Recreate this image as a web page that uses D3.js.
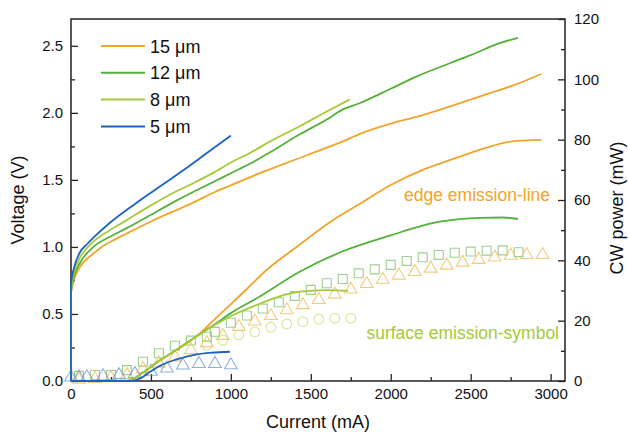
<!DOCTYPE html>
<html>
<head>
<meta charset="utf-8">
<script src="https://cdn.jsdelivr.net/npm/d3@7"></script>
<style>
  body { margin: 0; background: #fff; }
  text { font-family: "Liberation Sans", Arial, sans-serif; }
</style>
</head>
<body>
<script>
// voltage curves (left axis)
var v15I = [0, 0, 20, 56, 140, 192, 250, 348, 500, 650, 764, 900, 1000, 1181, 1400, 1600, 1744, 1800, 2000, 2160, 2400, 2577, 2800, 2942];
var v15V = [0, 0.66, 0.76, 0.85, 0.95, 1.0, 1.04, 1.10, 1.19, 1.27, 1.33, 1.41, 1.46, 1.55, 1.65, 1.74, 1.81, 1.84, 1.92, 1.97, 2.06, 2.13, 2.22, 2.29];
var v12I = [0, 0, 20, 56, 140, 250, 348, 500, 650, 764, 900, 1000, 1119, 1250, 1431, 1600, 1692, 1800, 2000, 2160, 2369, 2500, 2681, 2796];
var v12V = [0, 0.66, 0.78, 0.88, 1.0, 1.08, 1.14, 1.24, 1.34, 1.41, 1.49, 1.55, 1.62, 1.71, 1.84, 1.95, 2.02, 2.07, 2.18, 2.27, 2.37, 2.43, 2.52, 2.56];
var v8I = [0, 0, 20, 56, 106, 140, 250, 348, 500, 650, 764, 900, 1000, 1119, 1250, 1431, 1600, 1744];
var v8V = [0, 0.68, 0.81, 0.92, 1.0, 1.04, 1.13, 1.20, 1.31, 1.41, 1.475, 1.56, 1.63, 1.70, 1.79, 1.90, 2.01, 2.10];
var v5I = [0, 0, 10, 25, 56, 100, 150, 244, 400, 556, 700, 850, 1000];
var v5V = [0, 0.72, 0.80, 0.87, 0.96, 1.02, 1.08, 1.18, 1.32, 1.45, 1.57, 1.70, 1.83];

// edge emission power (right axis, lines)
var p15I = [0, 350, 400, 450, 550, 650, 744, 806, 900, 1000, 1100, 1223, 1400, 1640, 1800, 2000, 2200, 2400, 2600, 2785, 2942];
var p15P = [0, 0, 1, 2.8, 6.6, 10, 13.2, 15.8, 20.5, 25.5, 30.5, 36.8, 44, 53.4, 58.5, 65, 70, 73.8, 77.4, 79.6, 79.9];
var p12I = [0, 350, 400, 450, 550, 650, 744, 900, 1000, 1181, 1430, 1700, 2000, 2306, 2556, 2700, 2796];
var p12P = [0, 0, 1, 2.8, 6.6, 10, 13.4, 18.8, 22.5, 28, 36.2, 43, 48.3, 52.8, 54.1, 54.2, 53.7];
var p8I = [0, 350, 400, 450, 550, 650, 744, 850, 1014, 1181, 1300, 1431, 1600, 1733];
var p8P = [0, 0, 1, 2.8, 6.6, 10, 13.3, 17, 21.9, 25.6, 28, 29.6, 30.1, 29.9];
var p5I = [0, 380, 430, 500, 556, 650, 764, 880, 994];
var p5P = [0, 0, 0.8, 3.2, 5.0, 7.0, 8.6, 9.4, 9.7];

// surface emission power (right axis, symbols)
var sqI = [50, 150, 250, 350, 450, 550, 650, 750, 850, 900, 1000, 1100, 1200, 1300, 1400, 1500, 1600, 1700, 1800, 1900, 2000, 2100, 2200, 2300, 2400, 2500, 2600, 2700, 2800];
var sqP = [1.7, 2.0, 2.0, 3.6, 6.4, 9.2, 11.7, 13.4, 14.7, 16.3, 19.3, 21.7, 24.0, 26.1, 28.2, 30.2, 32.4, 33.8, 35.7, 37.0, 38.5, 39.8, 41.0, 41.8, 42.5, 42.9, 43.2, 43.3, 42.7];
var triI = [50, 150, 250, 350, 450, 550, 650, 750, 850, 950, 1050, 1150, 1250, 1350, 1450, 1550, 1650, 1750, 1850, 1950, 2050, 2150, 2250, 2350, 2450, 2550, 2650, 2750, 2850, 2950];
var triP = [0.5, 0.7, 1.0, 2.0, 4.0, 5.9, 7.9, 10.3, 12.6, 15.0, 18.0, 19.8, 21.6, 23.5, 25.2, 26.9, 28.7, 30.4, 32.2, 33.6, 35.0, 36.2, 37.3, 38.3, 39.3, 40.2, 41.0, 41.6, 41.8, 41.8];
var cirI = [850, 950, 1050, 1150, 1250, 1350, 1450, 1550, 1650, 1750];
var cirP = [11.9, 13.5, 15.3, 16.3, 17.8, 18.9, 19.7, 20.5, 20.8, 20.8];
var btriI = [0, 50, 100, 200, 300, 400, 500, 600, 700, 800, 900, 1000];
var btriP = [1.2, 1.2, 1.3, 1.6, 2.0, 2.4, 3.1, 4.2, 5.2, 5.7, 5.7, 5.3];

var legendLabels = ["15 μm", "12 μm", "8 μm", "5 μm"];
var xTicks = [0, 500, 1000, 1500, 2000, 2500, 3000];
var yLTicks = [0, 0.5, 1.0, 1.5, 2.0, 2.5];
var yRTicks = [0, 20, 40, 60, 80, 100, 120];

var orange = "#f0a42a", green = "#55b03a", lime = "#a6c93a", blue = "#1e62c0";

var svg = d3.select("body").append("svg")
  .attr("width", 628)
  .attr("height", 433);

var x = d3.scaleLinear().domain([0, 3090]).range([71, 565]);
var yL = d3.scaleLinear().domain([0, 2.7]).range([381, 19]);
var yR = d3.scaleLinear().domain([0, 120]).range([381, 19]);

function pairs(a, b) {
  return a.map(function(d, i) { return [d, b[i]]; });
}

// minor ticks
svg.append("g").attr("transform", "translate(0,381)")
  .call(d3.axisBottom(x).tickValues(d3.range(250, 3000, 500)).tickSize(-4).tickFormat(""));
svg.append("g").attr("transform", "translate(71,0)")
  .call(d3.axisLeft(yL).tickValues(d3.range(0.25, 2.7, 0.5)).tickSize(-4).tickFormat(""));
svg.append("g").attr("transform", "translate(565,0)")
  .call(d3.axisRight(yR).tickValues(d3.range(10, 120, 20)).tickSize(-4).tickFormat(""));

// major axes
svg.append("g").attr("transform", "translate(0,381)")
  .call(d3.axisBottom(x).tickValues(xTicks).tickSize(-7).tickPadding(7).tickFormat(d3.format("d")));
svg.append("g").attr("transform", "translate(71,0)")
  .call(d3.axisLeft(yL).tickValues(yLTicks).tickSize(-7).tickPadding(8).tickFormat(d3.format(".1f")));
svg.append("g").attr("transform", "translate(565,0)")
  .call(d3.axisRight(yR).tickValues(yRTicks).tickSize(-7).tickPadding(9).tickFormat(d3.format("d")));

svg.selectAll(".domain").remove();
svg.selectAll(".tick line").attr("stroke", "#222").attr("stroke-width", 1.3);
svg.selectAll(".tick text").attr("font-size", 15).attr("fill", "#111")
  .style("font-family", "'Liberation Sans', Arial, sans-serif");

svg.append("rect")
  .attr("x", 71).attr("y", 19).attr("width", 494).attr("height", 362)
  .attr("fill", "none").attr("stroke", "#222").attr("stroke-width", 1.5);

// symbols
var symG = svg.append("g");
function symbols(I, P, type, size, color) {
  symG.selectAll(null)
    .data(pairs(I, P))
    .enter()
    .append("path")
    .attr("d", d3.symbol().type(type).size(size))
    .attr("transform", function(d) { return "translate(" + x(d[0]) + "," + yR(d[1]) + ")"; })
    .attr("fill", "none")
    .attr("stroke", color)
    .attr("stroke-width", 1.1)
    .attr("stroke-opacity", 0.75);
}
symbols(sqI, sqP, d3.symbolSquare, 80, "#7dbf6a");
symbols(triI, triP, d3.symbolTriangle, 70, "#f0b850");
symbols(cirI, cirP, d3.symbolCircle, 75, "#c9dc72");
symbols(btriI, btriP, d3.symbolTriangle, 70, "#6a98d0");

// lines
var lineL = d3.line().curve(d3.curveMonotoneX).x(function(d) { return x(d[0]); }).y(function(d) { return yL(d[1]); });
var lineR = d3.line().curve(d3.curveMonotoneX).x(function(d) { return x(d[0]); }).y(function(d) { return yR(d[1]); });

function draw(gen, I, v, color) {
  svg.append("path")
    .datum(pairs(I, v))
    .attr("d", gen)
    .attr("fill", "none")
    .attr("stroke", color)
    .attr("stroke-width", 1.8);
}
draw(lineR, p15I, p15P, orange);
draw(lineR, p12I, p12P, green);
draw(lineR, p8I, p8P, lime);
draw(lineR, p5I, p5P, blue);
draw(lineL, v15I, v15V, orange);
draw(lineL, v12I, v12V, green);
draw(lineL, v8I, v8V, lime);
draw(lineL, v5I, v5V, blue);

// legend
var legColors = [orange, green, lime, blue];
var leg = svg.selectAll(".leg")
  .data(legendLabels)
  .enter()
  .append("g")
  .attr("transform", function(d, i) { return "translate(101," + (46 + i * 26.8) + ")"; });
leg.append("line").attr("x1", 0).attr("x2", 44)
  .attr("stroke", function(d, i) { return legColors[i]; }).attr("stroke-width", 2);
leg.append("text").attr("x", 49).attr("y", 6.5)
  .attr("font-size", 18).attr("fill", "#111")
  .text(function(d) { return d; });

// annotations
svg.append("text").attr("x", 550).attr("y", 201).attr("text-anchor", "end")
  .attr("font-size", 17.5).attr("fill", orange).text("edge emission-line");
svg.append("text").attr("x", 559).attr("y", 339).attr("text-anchor", "end")
  .attr("font-size", 17.5).attr("fill", lime).text("surface emission-symbol");

// axis titles
svg.append("text").attr("x", 318).attr("y", 428).attr("text-anchor", "middle")
  .attr("font-size", 18).attr("fill", "#111").text("Current (mA)");
svg.append("text").attr("transform", "translate(24,200) rotate(-90)").attr("text-anchor", "middle")
  .attr("font-size", 18).attr("fill", "#111").text("Voltage (V)");
svg.append("text").attr("transform", "translate(623,208) rotate(-90)").attr("text-anchor", "middle")
  .attr("font-size", 18).attr("fill", "#111").text("CW power (mW)");
</script>
</body>
</html>
